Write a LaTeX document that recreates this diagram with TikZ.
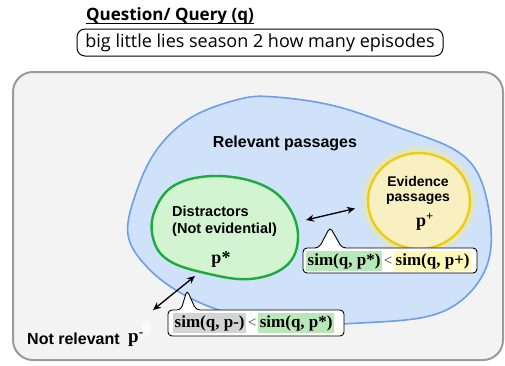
\documentclass[tikz,border=0pt]{standalone}
\usepackage{fontspec}
\setmainfont{Liberation Serif}
\newfontfamily\qfont{Open Sans}
\newfontfamily\lfont{Liberation Sans}
\usetikzlibrary{shapes.geometric,arrows.meta,calc}
\definecolor{outerfill}{HTML}{F3F3F3}
\definecolor{outerline}{HTML}{9A9A9A}
\definecolor{bluefill}{HTML}{CFE2FA}
\definecolor{blueline}{HTML}{6D9EEB}
\definecolor{greenfill}{HTML}{D2F4D0}
\definecolor{greenline}{HTML}{1DAA3C}
\definecolor{yelfill}{HTML}{F8F0C0}
\definecolor{yelline}{HTML}{F0CC10}
\definecolor{yelglow}{HTML}{F4EB90}
\definecolor{hlgreen}{HTML}{B8E8B8}
\definecolor{hlyel}{HTML}{FFF8B8}
\definecolor{hlgray}{HTML}{D4D4D4}
\begin{document}
\begin{tikzpicture}[x=1pt,y=-1pt,
  lbl/.style={font=\lfont\bfseries\fontsize{16}{18}\selectfont, inner sep=0},
  hl/.style={font=\bfseries\fontsize{17}{19}\selectfont, inner xsep=1.5pt, inner ysep=2pt, anchor=west, minimum height=20},
  ltsign/.style={font=\fontsize{15}{17}\selectfont, inner sep=1.5pt, anchor=west, text=black!80},
  callout/.style={draw=black, line width=0.9, fill=white, rounded corners=4},
  dblarrow/.style={{Stealth[length=8pt,width=7pt]}-{Stealth[length=8pt,width=7pt]}, line width=1.3}
]
\useasboundingbox (0,0) rectangle (505,365);

% title and query
\node[font=\qfont\bfseries\fontsize{17}{20}\selectfont, inner sep=0, anchor=base] (title) at (170,20) {Question/ Query (q)};
\draw[line width=1.2] ($(title.base west)+(0,3.5)$) -- ($(title.base east)+(0,3.5)$);
\node[draw, line width=1, rounded corners=8, minimum width=366, minimum height=27, inner sep=0,
      font=\qfont\fontsize{18}{20}\selectfont] (query) at (260,42.5) {big little lies season 2 how many episodes};

% outer box
\draw[outerline, line width=2, fill=outerfill, rounded corners=20] (13,72) rectangle (503,360);

% relevant blob
\draw[blueline, line width=1.6, fill=bluefill] plot[smooth cycle, tension=0.6] coordinates {
 (128,235) (137,190) (158,148) (192,117) (240,99) (275,97) (335,106) (400,128) (455,150)
 (480,178) (491,228) (486,268) (462,300) (425,317) (360,323) (300,324) (240,316) (190,298) (150,270)};
\node[lbl] (relevant) at (285,143) {Relevant passages};

% distractors blob
\draw[greenline, line width=2.4, fill=greenfill] plot[smooth cycle, tension=0.65] coordinates {
 (155,210) (175,185) (215,176) (260,184) (288,206) (298,238) (286,266) (250,279) (205,273) (168,260) (153,238)};
\node[lbl, align=left, anchor=west, font=\lfont\bfseries\fontsize{14.5}{17}\selectfont] (distr) at (172,221.5) {Distractors\\(Not evidential)};
\node[font=\bfseries\fontsize{18}{20}\selectfont, inner sep=0] (pstar) at (221,259) {p*};

% evidence ellipse with glow
\foreach \g/\o in {8/0.15,5.5/0.25,3/0.35}{
  \fill[yelglow, opacity=\o] (419,201) ellipse ({51+\g} and {48+\g});
}
\node[ellipse, draw=yelline, line width=2.4, fill=yelfill, minimum width=102, minimum height=96, inner sep=0] (evid) at (419,201) {};
\node[lbl, align=center, font=\lfont\bfseries\fontsize{14}{15.5}\selectfont] (evtext) at (418,190.5) {Evidence\\passages};
\node[font=\bfseries\fontsize{18}{20}\selectfont, inner sep=0] (pplus) at (425,222) {p\textsuperscript{+}};

% arrow green - yellow
\coordinate (g1) at (306,220);
\coordinate (y1) at (355,208.5);
\draw[dblarrow] (g1) -- (y1);

% callout 1
\draw[callout] (303,248) -- (319,248) -- (330,227) -- (342,248) -- (477,248) -- (477,273) -- (303,273) -- cycle;
\node[hl, fill=hlgreen] (c1a) at (306,261) {sim(q, p*)};
\node[ltsign] (c1lt) at (c1a.east) {<};
\node[hl, fill=hlyel] (c1b) at (c1lt.east) {sim(q, p+)};

% not relevant
\fill[white, opacity=0.6] (147,328) ellipse (5 and 8);
\node[lbl, anchor=west] (notrel) at (27,339) {Not relevant};
\node[font=\bfseries\fontsize{19}{20}\selectfont, inner sep=0, anchor=west] (pminus) at (128,340) {p\textsuperscript{-}};

% arrow not relevant - green
\coordinate (n1) at (153,310);
\coordinate (g2) at (195,276);
\draw[dblarrow] (n1) -- (g2);

% callout 2
\draw[callout] (168,310) -- (181,310) -- (187,290) -- (196,310) -- (344,310) -- (344,336) -- (168,336) -- cycle;
\node[hl, fill=hlgray] (c2a) at (173,323) {sim(q, p-)};
\node[ltsign] (c2lt) at (c2a.east) {<};
\node[hl, fill=hlgreen] (c2b) at (c2lt.east) {sim(q, p*)};
\end{tikzpicture}
\end{document}
